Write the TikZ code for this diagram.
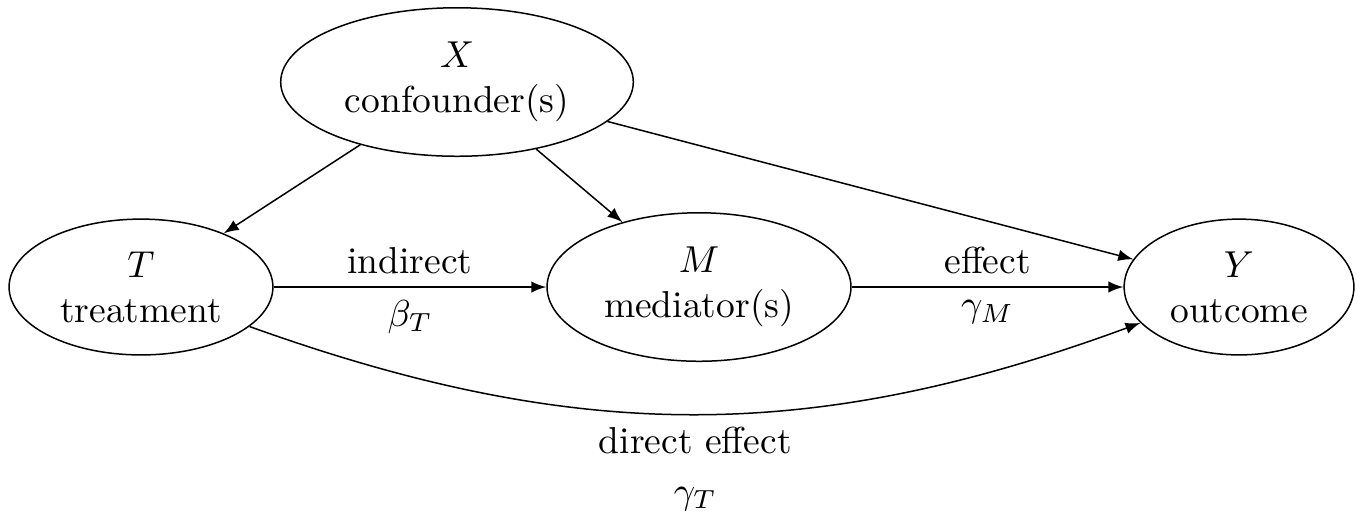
\documentclass[tikz,border=0pt]{standalone}
\usetikzlibrary{shapes.geometric,arrows}
\begin{document}
\begin{tikzpicture}[x=0.266667pt, y=-0.266667pt,
  var/.style={draw, ellipse, align=center},
  arr/.style={-latex}]
\useasboundingbox (0,0) rectangle (1365,511);
\node[var] (X) at (457,82) {$X$\\confounder(s)};
\node[var] (T) at (141,287) {$T$\\treatment};
\node[var] (M) at (699,287) {$M$\\mediator(s)};
\node[var] (Y) at (1239,287) {$Y$\\outcome};
\draw[arr] (X) -- (T);
\draw[arr] (X) -- (M);
\draw[arr] (X) -- (Y);
\draw[arr] (T) -- node[above] (l1) {indirect} node[below] (l2) {$\beta_T$} (M);
\draw[arr] (M) -- node[above] (l3) {effect} node[below] (l4) {$\gamma_M$} (Y);
\draw[arr] (T) to[bend right=20] node[below] (l5) {direct effect} node[below=15.9pt] (l6) {$\gamma_T$} (Y);
\end{tikzpicture}
\end{document}
